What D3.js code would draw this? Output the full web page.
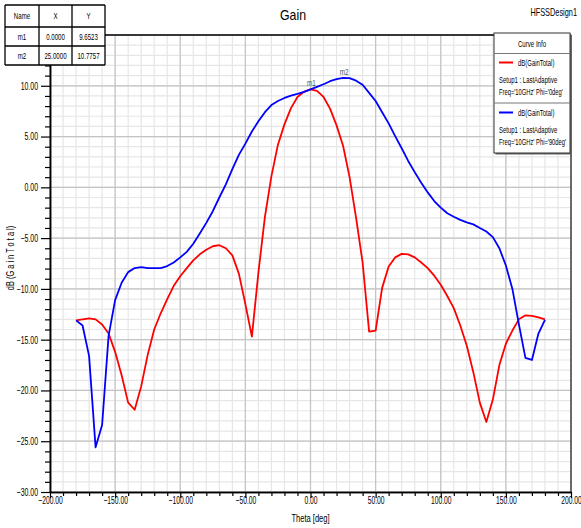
<!DOCTYPE html>
<html><head><meta charset="utf-8">
<script src="https://cdn.jsdelivr.net/npm/d3@7"></script>
<style>
html,body{margin:0;padding:0;background:#fff;}
svg text{font-family:"Liberation Sans",Arial,sans-serif;}
</style></head>
<body>
<svg id="c" width="581" height="528"></svg>
<script>
// ---- data ----
const theta = d3.range(-180, 181, 5);
const gainPhi0 = [
 -13.1,-13.0,-12.9,-13.0,-13.5,-14.4,-16.2,-18.5,-21.2,-21.9,
 -19.6,-16.5,-14.0,-12.4,-11.0,-9.7,-8.75,-7.95,-7.2,-6.6,
 -6.15,-5.8,-5.7,-6.0,-6.7,-8.5,-11.5,-14.7,-8.4,-2.9,
 1.1,4.2,6.2,7.8,8.9,9.4,9.6523,9.5,8.9,7.75,
 6.1,4.1,1.0,-3.0,-7.4,-14.2,-14.1,-9.9,-7.8,-6.9,
 -6.55,-6.6,-6.9,-7.4,-7.95,-8.7,-9.6,-10.7,-11.9,-13.6,
 -15.6,-18.2,-21.2,-23.1,-20.9,-17.5,-15.4,-14.1,-13.0,-12.6,
 -12.65,-12.8,-13.0
];
const gainPhi90 = [
 -13.1,-13.6,-16.6,-25.6,-23.4,-14.6,-11.1,-9.4,-8.35,-7.95,
 -7.85,-7.95,-7.95,-7.95,-7.75,-7.4,-6.9,-6.35,-5.55,-4.55,
 -3.5,-2.35,-1.0,0.3,1.8,3.2,4.3,5.5,6.5,7.4,
 8.1,8.5,8.8,9.03,9.2,9.4,9.65,9.9,10.15,10.45,
 10.65,10.7757,10.75,10.5,10.1,9.3,8.5,7.4,6.3,5.05,
 3.85,2.6,1.5,0.45,-0.5,-1.35,-2.0,-2.55,-2.9,-3.2,
 -3.45,-3.65,-4.0,-4.35,-4.9,-6.0,-7.7,-10.0,-13.5,-16.8,
 -17.0,-14.4,-13.05
];
const xTicks = [-200,-150,-100,-50,0,50,100,150,200];
const yTicks = [-30,-25,-20,-15,-10,-5,0,5,10];
const markerNames = ["m1","m2"];
const markerX = [0, 25];
const markerY = [9.6523, 10.7757];
const markerXText = ["0.0000","25.0000"];
const markerYText = ["9.6523","10.7757"];
const legendLines = [
  ["dB(GainTotal)","Setup1 : LastAdaptive","Freq='10GHz' Phi='0deg'"],
  ["dB(GainTotal)","Setup1 : LastAdaptive","Freq='10GHz' Phi='90deg'"]
];
const colors = ["#ff0000","#0000ff"];

// condense text horizontally (narrow font look)
function narrow(sel, f){
  sel.each(function(){
    const w = this.getComputedTextLength();
    if (w>0) d3.select(this).attr("textLength", w*f).attr("lengthAdjust","spacingAndGlyphs");
  });
  return sel;
}

// ---- chart ----
const svg = d3.select("#c");
const L=50, R=571, T=35, B=492;
const x = d3.scaleLinear().domain([-200,200]).range([L,R]);
const y = d3.scaleLinear().domain([-30,15]).range([B,T]);

// grid
const g = svg.append("g");
g.selectAll(".vmin").data(d3.range(-200,201,10)).join("line")
  .attr("x1",d=>x(d)).attr("x2",d=>x(d)).attr("y1",T).attr("y2",B)
  .attr("stroke","#e6e6e6").attr("stroke-width",1.2);
g.selectAll(".hmin").data(d3.range(-30,16,1)).join("line")
  .attr("y1",d=>y(d)).attr("y2",d=>y(d)).attr("x1",L).attr("x2",R)
  .attr("stroke","#e6e6e6").attr("stroke-width",1.2);
g.selectAll(".vmaj").data(xTicks).join("line")
  .attr("x1",d=>x(d)).attr("x2",d=>x(d)).attr("y1",T).attr("y2",B)
  .attr("stroke","#c4c4c4").attr("stroke-width",1.2);
g.selectAll(".hmaj").data(yTicks.concat([15])).join("line")
  .attr("y1",d=>y(d)).attr("y2",d=>y(d)).attr("x1",L).attr("x2",R)
  .attr("stroke","#c4c4c4").attr("stroke-width",1.2);

// frame
svg.append("line").attr("x1",L).attr("x2",R).attr("y1",T).attr("y2",T).attr("stroke","#000").attr("stroke-width",1.5);
svg.append("line").attr("x1",R).attr("x2",R).attr("y1",T).attr("y2",B).attr("stroke","#444").attr("stroke-width",1.5);

// axes
const xAxis = svg.append("g").attr("transform",`translate(0,${B})`)
  .call(d3.axisBottom(x).tickValues(xTicks).tickFormat(d3.format(".2f")).tickSize(6).tickSizeOuter(0));
const xMinor = svg.append("g").attr("transform",`translate(0,${B})`)
  .call(d3.axisBottom(x).tickValues(d3.range(-200,201,10).filter(d=>d%50!==0)).tickFormat("").tickSize(4).tickSizeOuter(0));
const yAxis = svg.append("g").attr("transform",`translate(${L},0)`)
  .call(d3.axisLeft(y).tickValues(yTicks).tickFormat(d3.format(".2f")).tickSize(9).tickSizeOuter(0));
const yMinor = svg.append("g").attr("transform",`translate(${L},0)`)
  .call(d3.axisLeft(y).tickValues(d3.range(-30,16,1).filter(d=>d%5!==0)).tickFormat("").tickSize(5).tickSizeOuter(0));
[xAxis,xMinor,yAxis,yMinor].forEach(a=>{
  a.select(".domain").attr("stroke","#000").attr("stroke-width",1.5);
  a.selectAll(".tick line").attr("stroke","#000").attr("stroke-width",1.2);
  a.selectAll("text").attr("font-family",null).attr("font-size",10.5).attr("fill","#000");
});
xAxis.selectAll("text").attr("dy","0.2em").attr("y",10);
yAxis.selectAll("text").attr("x",-12);
narrow(xAxis.selectAll("text"),0.64);
narrow(yAxis.selectAll("text"),0.66);

// axis titles
narrow(svg.append("text").attr("x",x(0)).attr("y",522).attr("text-anchor","middle").attr("font-size",10.5).text("Theta [deg]"),0.72);
narrow(svg.append("text").attr("transform",`translate(14,258) rotate(-90)`).attr("text-anchor","middle").attr("font-size",10).text("dB (G a i n T o t a l)"),0.74);

// title
narrow(svg.append("text").attr("x",293).attr("y",20).attr("text-anchor","middle").attr("font-size",15).text("Gain"),0.82);
narrow(svg.append("text").attr("x",577).attr("y",16).attr("text-anchor","end").attr("font-size",10.5).text("HFSSDesign1"),0.7);

// curves
const line = d3.line().x((d,i)=>x(theta[i])).y(d=>y(d));
[gainPhi0,gainPhi90].forEach((s,i)=>{
  svg.append("path").datum(s).attr("d",line).attr("fill","none")
    .attr("stroke",colors[i]).attr("stroke-width",1.8).attr("stroke-linejoin","round");
});

// marker labels
markerNames.forEach((n,i)=>{
  narrow(svg.append("text").attr("x",x(markerX[i])+1).attr("y",y(markerY[i])-3)
    .attr("text-anchor","middle").attr("font-size",8.5).attr("fill","#555").text(n),0.75);
});

// marker table
const tb = svg.append("g");
const colX=[5,39,72,105], rowY=[5,27,46,65];
tb.append("rect").attr("x",5).attr("y",5).attr("width",100).attr("height",60).attr("fill","#fff");
const rows=[["Name","X","Y"]].concat(markerNames.map((n,i)=>[n,markerXText[i],markerYText[i]]));
rows.forEach((r,ri)=>r.forEach((c,ci)=>{
  narrow(tb.append("text").attr("x",(colX[ci]+colX[ci+1])/2).attr("y",(rowY[ri]+rowY[ri+1])/2+3)
    .attr("text-anchor","middle").attr("font-size",8.5).text(c),0.72);
}));
colX.forEach(cx=>tb.append("line").attr("x1",cx).attr("x2",cx).attr("y1",5).attr("y2",65).attr("stroke","#000").attr("stroke-width",1.3));
rowY.forEach(ry=>tb.append("line").attr("x1",5).attr("x2",105).attr("y1",ry).attr("y2",ry).attr("stroke","#000").attr("stroke-width",1.3));

// legend
const lg = svg.append("g");
lg.append("rect").attr("x",495.5).attr("y",34.5).attr("width",76).attr("height",120).attr("fill","#666");
lg.append("rect").attr("x",494).attr("y",33).attr("width",76).attr("height",120).attr("fill","#fff").attr("stroke","#333").attr("stroke-width",1);
narrow(lg.append("text").attr("x",532).attr("y",47).attr("text-anchor","middle").attr("font-size",8.5).text("Curve Info"),0.72);
lg.append("line").attr("x1",494).attr("x2",570).attr("y1",53.5).attr("y2",53.5).attr("stroke","#777");
lg.append("line").attr("x1",494).attr("x2",570).attr("y1",103).attr("y2",103).attr("stroke","#777");
legendLines.forEach((ls,i)=>{
  const y0 = 62.5 + i*50;
  lg.append("line").attr("x1",499).attr("x2",513).attr("y1",y0).attr("y2",y0).attr("stroke",colors[i]).attr("stroke-width",2);
  narrow(lg.append("text").attr("x",518).attr("y",y0+3).attr("font-size",8.5).text(ls[0]),0.7);
  narrow(lg.append("text").attr("x",499).attr("y",y0+20).attr("font-size",8.5).text(ls[1]),0.7);
  narrow(lg.append("text").attr("x",499).attr("y",y0+32).attr("font-size",8.5).text(ls[2]),0.68);
});
</script>
</body></html>
